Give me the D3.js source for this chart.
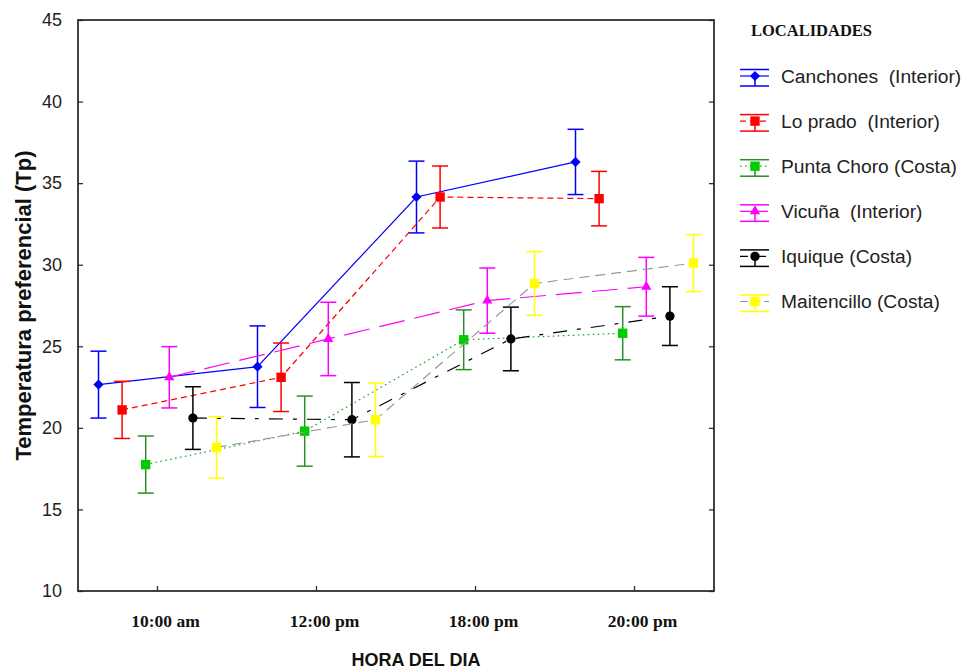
<!DOCTYPE html>
<html>
<head>
<meta charset="utf-8">
<script src="https://cdn.jsdelivr.net/npm/d3@7"></script>
<style>
  html, body { margin: 0; padding: 0; background: #fff; }
  svg { display: block; }
  .leg { white-space: pre; }
</style>
</head>
<body>
<svg id="chart" width="968" height="671"></svg>
<script>
// ---------- DATA ----------
const categories = ["10:00 am", "12:00 pm", "18:00 pm", "20:00 pm"];
const yTicks = [10, 15, 20, 25, 30, 35, 40, 45];
const seriesNames = ["Canchones  (Interior)", "Lo prado  (Interior)", "Punta Choro (Costa)",
                     "Vicuña  (Interior)", "Iquique (Costa)", "Maitencillo (Costa)"];
const canchonesMean   = [22.65, 23.75, 34.15, 36.3];
const canchonesErr    = [2.05, 2.5, 2.2, 2.0];
const loPradoMean     = [21.1, 23.1, 34.15, 34.05];
const loPradoErr      = [1.75, 2.1, 1.9, 1.67];
const puntaChoroMean  = [17.75, 19.8, 25.4, 25.8];
const puntaChoroErr   = [1.75, 2.15, 1.83, 1.63];
const vicunaMean      = [23.1, 25.45, 27.8, 28.65];
const vicunaErr       = [1.88, 2.25, 2.0, 1.8];
const iquiqueMean     = [20.6, 20.5, 25.45, 26.85];
const iquiqueErr      = [1.92, 2.28, 1.95, 1.8];
const maitencilloMean = [18.8, 20.5, 28.85, 30.1];
const maitencilloErr  = [1.88, 2.25, 1.95, 1.75];

// ---------- STYLES ----------
const styles = [
  { line: "#0000ff", dash: null,         legDash: null,      err: "#0000ff", fill: "#0000ff", shape: "diamond" },
  { line: "#ff0000", dash: "6,4",        legDash: "6,4",     err: "#ff0000", fill: "#ff0000", shape: "square" },
  { line: "#22a022", dash: "1.6,3.4",    legDash: "1.6,3.4", err: "#2e8b2e", fill: "#00cc00", shape: "square" },
  { line: "#ff00ff", dash: "26,10",      legDash: "12,4",    err: "#ff00ff", fill: "#ff00ff", shape: "triangle" },
  { line: "#000000", dash: "14,10,4,10", legDash: "8,4,2,4", err: "#000000", fill: "#000000", shape: "circle" },
  { line: "#999999", dash: "10,6",       legDash: "8,4",     err: "#ffff00", fill: "#ffff00", shape: "square" }
];
const means = [canchonesMean, loPradoMean, puntaChoroMean, vicunaMean, iquiqueMean, maitencilloMean];
const errs  = [canchonesErr, loPradoErr, puntaChoroErr, vicunaErr, iquiqueErr, maitencilloErr];
const series = seriesNames.map((name, i) => ({
  name, style: styles[i],
  values: categories.map((c, j) => ({ cat: c, mean: means[i][j], err: errs[i][j] }))
}));

// ---------- LAYOUT ----------
const svg = d3.select("#chart");
const L = 78, R = 714, T = 20, B = 591;
const x = d3.scaleBand().domain(categories).range([L, R]).padding(0);
const off = d3.scalePoint().domain(seriesNames).range([-59, 59]);
const y = d3.scaleLinear().domain([10, 45]).range([B, T]);
const px = (s, d) => x(d.cat) + x.bandwidth() / 2 + off(s.name);

function markerPath(shape) {
  if (shape === "diamond") return d3.symbol(d3.symbolSquare, 52)();
  if (shape === "square") return d3.symbol(d3.symbolSquare, 88)();
  if (shape === "triangle") return d3.symbol(d3.symbolTriangle, 46)();
  return d3.symbol(d3.symbolCircle, 68)();
}
function markerTransform(shape, cx, cy) {
  return shape === "diamond" ? `translate(${cx},${cy}) rotate(45)` : `translate(${cx},${cy})`;
}

// ---------- AXES ----------
const axisG = svg.append("g");
axisG.append("g")
  .attr("transform", `translate(${L},0)`)
  .call(d3.axisLeft(y).tickValues(yTicks).tickSize(-5).tickPadding(16).tickFormat(d3.format("d")))
  .call(g => g.select(".domain").remove())
  .call(g => g.selectAll("line").attr("stroke", "#333").attr("stroke-width", 1.3))
  .call(g => g.selectAll("text").attr("font-family", "Arial, 'Liberation Sans', sans-serif")
      .attr("font-size", 18).attr("fill", "#222"));
axisG.append("g")
  .attr("transform", `translate(${R},0)`)
  .call(d3.axisRight(y).tickValues(yTicks).tickSize(-5).tickFormat(""))
  .call(g => g.select(".domain").remove())
  .call(g => g.selectAll("line").attr("stroke", "#333").attr("stroke-width", 1.3));
axisG.append("g")
  .attr("transform", `translate(0,${B})`)
  .call(d3.axisBottom(x).tickSize(-5).tickPadding(24))
  .call(g => g.select(".domain").remove())
  .call(g => g.selectAll("line").attr("stroke", "#333").attr("stroke-width", 1.3))
  .call(g => g.selectAll("text").attr("font-family", "'Times New Roman', 'Liberation Serif', serif")
      .attr("font-weight", "bold").attr("font-size", 17.5).attr("fill", "#111").attr("dx", 8));

svg.append("rect").attr("x", L).attr("y", T).attr("width", R - L).attr("height", B - T)
  .attr("fill", "none").attr("stroke", "#222").attr("stroke-width", 1.7);

svg.append("text")
  .attr("transform", `translate(31,${(T + B) / 2}) rotate(-90)`)
  .attr("text-anchor", "middle")
  .attr("font-family", "Arial, 'Liberation Sans', sans-serif")
  .attr("font-weight", "bold").attr("font-size", 22).attr("fill", "#111")
  .text("Temperatura preferencial (Tp)");

svg.append("text")
  .attr("x", 416).attr("y", 666).attr("text-anchor", "middle")
  .attr("font-family", "Arial, 'Liberation Sans', sans-serif")
  .attr("font-weight", "bold").attr("font-size", 18).attr("fill", "#111")
  .text("HORA DEL DIA");

// ---------- SERIES ----------
const line = d3.line();
series.forEach(s => {
  const g = svg.append("g");
  g.append("path")
    .attr("d", line(s.values.map(d => [px(s, d), y(d.mean)])))
    .attr("fill", "none").attr("stroke", s.style.line).attr("stroke-width", 1.2)
    .attr("stroke-dasharray", s.style.dash);
  const eb = g.selectAll(".eb").data(s.values).join("g")
    .attr("stroke", s.style.err).attr("stroke-width", 1.5);
  eb.append("line").attr("x1", d => px(s, d)).attr("x2", d => px(s, d))
    .attr("y1", d => y(d.mean + d.err)).attr("y2", d => y(d.mean - d.err));
  eb.append("line").attr("x1", d => px(s, d) - 8).attr("x2", d => px(s, d) + 8)
    .attr("y1", d => y(d.mean + d.err)).attr("y2", d => y(d.mean + d.err));
  eb.append("line").attr("x1", d => px(s, d) - 8).attr("x2", d => px(s, d) + 8)
    .attr("y1", d => y(d.mean - d.err)).attr("y2", d => y(d.mean - d.err));
  g.selectAll(".mk").data(s.values).join("path")
    .attr("d", markerPath(s.style.shape))
    .attr("transform", d => markerTransform(s.style.shape, px(s, d), y(d.mean)))
    .attr("fill", s.style.fill);
});

// ---------- LEGEND ----------
svg.append("text").attr("x", 751).attr("y", 36)
  .attr("font-family", "'Times New Roman', 'Liberation Serif', serif")
  .attr("font-weight", "bold").attr("font-size", 16.5).attr("fill", "#111")
  .text("LOCALIDADES");
const legY = d3.scalePoint().domain(seriesNames).range([76, 301.5]);
series.forEach(s => {
  const cy = legY(s.name), x0 = 740, x1 = 769, cx = 755;
  const g = svg.append("g");
  g.append("line").attr("x1", x0).attr("x2", x1).attr("y1", cy).attr("y2", cy)
    .attr("stroke", s.style.line).attr("stroke-width", 1.2).attr("stroke-dasharray", s.style.legDash);
  g.append("line").attr("x1", x0).attr("x2", x1).attr("y1", cy - 6.5).attr("y2", cy - 6.5)
    .attr("stroke", s.style.err).attr("stroke-width", 1.5);
  g.append("line").attr("x1", x0).attr("x2", x1).attr("y1", cy + 10).attr("y2", cy + 10)
    .attr("stroke", s.style.err).attr("stroke-width", 1.5);
  g.append("line").attr("x1", cx).attr("x2", cx).attr("y1", cy).attr("y2", cy + 10)
    .attr("stroke", s.style.err).attr("stroke-width", 1.5);
  g.append("path").attr("d", markerPath(s.style.shape))
    .attr("transform", markerTransform(s.style.shape, cx, cy)).attr("fill", s.style.fill);
  g.append("text").attr("class", "leg").attr("x", 781).attr("y", cy + 6.5)
    .attr("font-family", "Arial, 'Liberation Sans', sans-serif")
    .attr("font-size", 19.2).attr("fill", "#222").text(s.name);
});
</script>
</body>
</html>
